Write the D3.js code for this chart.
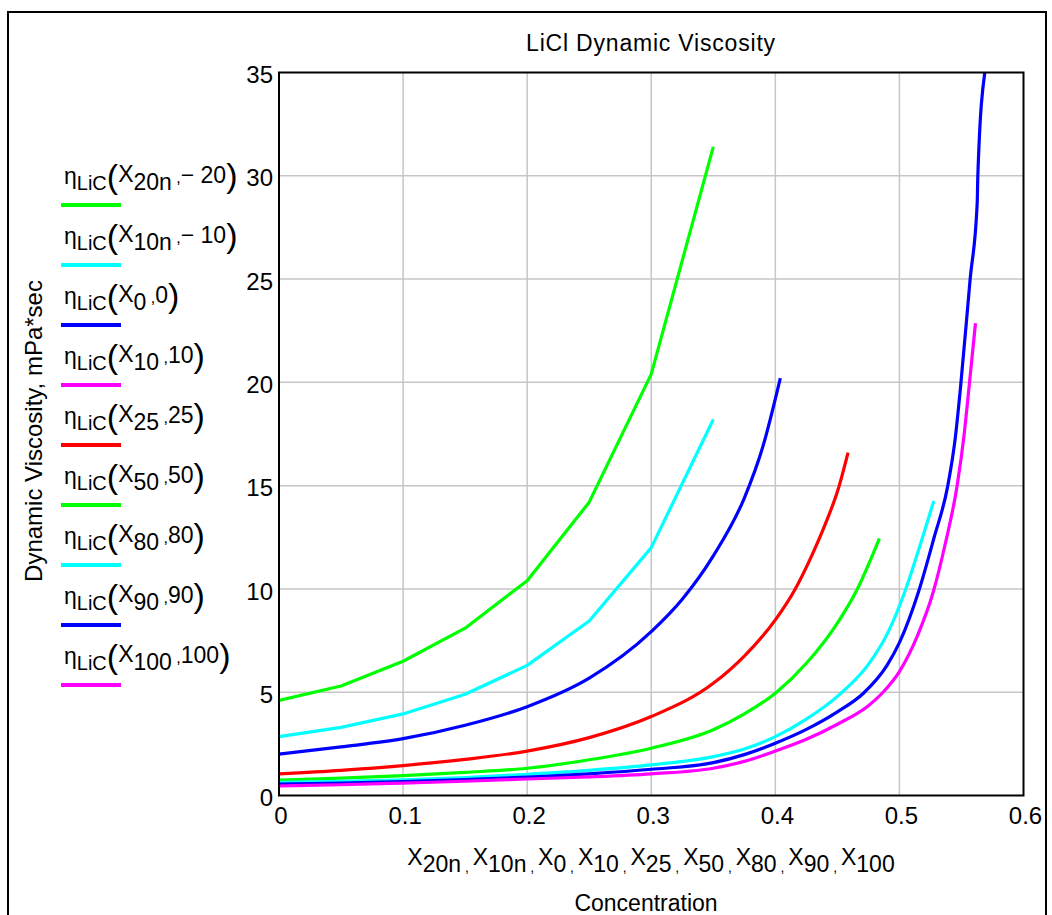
<!DOCTYPE html>
<html><head><meta charset="utf-8">
<script src="https://cdn.jsdelivr.net/npm/d3@7"></script>
<style>
body{margin:0;background:#fff}
text{font-family:"Liberation Sans",Arial,sans-serif;fill:#000}
</style>
</head><body>
<svg id="c" width="1052" height="915"></svg>
<script>
// ---- data ----
const xTicks=[0,0.1,0.2,0.3,0.4,0.5,0.6];
const xTickLabels=["0","0.1","0.2","0.3","0.4","0.5","0.6"];
const yTicks=[0,5,10,15,20,25,30,35];
const yTickLabels=["0","5","10","15","20","25","30","35"];

const legendSubs=["20n","10n","0","10","25","50","80","90","100"];
const legendTemps=["\u2212 20","\u2212 10","0","10","25","50","80","90","100"];
const seriesColors=["#00ff00","#00ffff","#0000ff","#ff00ff","#ff0000","#00ff00","#00ffff","#0000ff","#ff00ff"];

// -20 C
const xM20=[0,0.05,0.1,0.15,0.2,0.25,0.3,0.35];
const vM20=[4.6,5.3,6.5,8.1,10.4,14.2,20.4,31.4];
// -10 C
const xM10=[0,0.05,0.1,0.15,0.2,0.25,0.3,0.35];
const vM10=[2.85,3.3,3.95,4.9,6.3,8.45,12.0,18.2];
// 0 C
const xT0=[0,0.05,0.1,0.15,0.2,0.25,0.3,0.325,0.35,0.375,0.39,0.404];
const vT0=[2.0,2.35,2.75,3.4,4.3,5.68,7.93,9.5,11.6,14.4,16.9,20.2];
// 10 C (not visible in reference)
const xT10=[];
const vT10=[];
// 25 C
const xT25=[0,0.05,0.1,0.15,0.2,0.25,0.3,0.35,0.375,0.4,0.4156,0.43,0.44,0.451,0.4586];
const vT25=[1.05,1.22,1.45,1.75,2.15,2.8,3.82,5.43,6.75,8.5,9.95,11.7,13.1,14.9,16.6];
// 50 C
const xT50=[0,0.05,0.1,0.15,0.2,0.25,0.3,0.35,0.375,0.401,0.425,0.45,0.4653,0.4839];
const vT50=[0.75,0.84,0.96,1.12,1.32,1.73,2.29,3.18,3.95,5.0,6.4,8.35,9.9,12.45];
// 80 C
const xT80=[0,0.05,0.1,0.15,0.2,0.25,0.3,0.35,0.375,0.4,0.425,0.45,0.475,0.49,0.504,0.515,0.5277];
const vT80=[0.64,0.69,0.76,0.87,1.03,1.22,1.48,1.88,2.25,2.85,3.7,4.8,6.35,7.8,9.8,11.8,14.26];
// 90 C
const xT90=[0,0.05,0.1,0.15,0.2,0.25,0.3,0.35,0.375,0.4,0.425,0.45,0.471,0.49,0.5,0.5156,0.528,0.539,0.545,0.549,0.557,0.5627,0.5632,0.5688];
const vT90=[0.55,0.6,0.67,0.77,0.89,1.05,1.27,1.59,1.98,2.53,3.2,4.05,4.95,6.3,7.4,9.9,12.5,15.0,17.3,19.6,25.0,28.7,30.0,35.0];
// 100 C
const xT100=[0,0.05,0.1,0.15,0.2,0.25,0.3,0.35,0.375,0.4,0.425,0.45,0.475,0.4868,0.5,0.515,0.527,0.537,0.5465,0.552,0.5565,0.5613];
const vT100=[0.46,0.52,0.6,0.69,0.8,0.9,1.05,1.32,1.65,2.15,2.72,3.45,4.35,5.0,6.0,7.8,9.8,12.2,15.0,17.4,20.0,22.86];

const seriesX=[xM20,xM10,xT0,xT10,xT25,xT50,xT80,xT90,xT100];
const seriesV=[vM20,vM10,vT0,vT10,vT25,vT50,vT80,vT90,vT100];
const seriesPolyline=[true,true,false,false,false,false,false,false,false];

// ---- layout ----
const svg=d3.select("#c");
const L=279,R=1023.5,T=72.5,B=795.5;
const x=d3.scaleLinear().domain([0,0.6]).range([L,R]);
const y=d3.scaleLinear().domain([0,35]).range([B,T]);

// outer frame
svg.append("rect").attr("x",8).attr("y",12).attr("width",1038).attr("height",920)
  .attr("fill","none").attr("stroke","#000").attr("stroke-width",2);

// grid
const grid=svg.append("g");
grid.selectAll("line.gx").data(xTicks.slice(1,-1)).enter().append("line")
  .attr("x1",d=>x(d)).attr("x2",d=>x(d)).attr("y1",T).attr("y2",B)
  .attr("stroke","#c6c6c6").attr("stroke-width",1.5);
grid.selectAll("line.gy").data(yTicks.slice(1,-1)).enter().append("line")
  .attr("y1",d=>y(d)).attr("y2",d=>y(d)).attr("x1",L).attr("x2",R)
  .attr("stroke","#c6c6c6").attr("stroke-width",1.5);

// axes labels
const yAxis=d3.axisLeft(y).tickValues(yTicks).tickSize(0).tickPadding(6)
  .tickFormat((d,i)=>yTickLabels[i]);
const gy=svg.append("g").attr("transform",`translate(${L},0)`).call(yAxis);
gy.select(".domain").remove();
gy.selectAll("text").attr("dy","0.42em").style("font-size","24px").style("font-family","'Liberation Sans',Arial,sans-serif").attr("fill","#000");

const xAxis=d3.axisBottom(x).tickValues(xTicks).tickSize(0).tickPadding(11)
  .tickFormat((d,i)=>xTickLabels[i]);
const gx=svg.append("g").attr("transform",`translate(1.5,${B})`).call(xAxis);
gx.select(".domain").remove();
gx.selectAll("text").style("font-size","24px").style("font-family","'Liberation Sans',Arial,sans-serif").attr("fill","#000");

// clip
svg.append("clipPath").attr("id","pc").append("rect").attr("x",L).attr("y",T-2).attr("width",R-L).attr("height",B-T+2);

// curves
const lines=svg.append("g").attr("clip-path","url(#pc)");
seriesX.forEach((xs,i)=>{
  if(!xs.length) return;
  const pts=xs.map((d,j)=>[d,seriesV[i][j]]);
  const gen=d3.line().x(d=>x(d[0])).y(d=>y(d[1]))
    .curve(seriesPolyline[i]?d3.curveLinear:d3.curveMonotoneX);
  lines.append("path").attr("d",gen(pts)).attr("fill","none")
    .attr("stroke",seriesColors[i]).attr("stroke-width",3.2).attr("stroke-linejoin","round");
});

// plot frame
svg.append("rect").attr("x",L).attr("y",T).attr("width",R-L).attr("height",B-T)
  .attr("fill","none").attr("stroke","#000").attr("stroke-width",2);

// title
svg.append("text").attr("x",651).attr("y",51).attr("text-anchor","middle")
  .style("font-size","23px").style("letter-spacing","0.8px").text("LiCl Dynamic Viscosity");

// y title
svg.append("text").attr("transform","translate(42,431) rotate(-90)").attr("text-anchor","middle")
  .style("font-size","24px").text("Dynamic Viscosity, mPa*sec");

// legend
const leg=svg.append("g");
legendSubs.forEach((s,i)=>{
  const ly=205+60*i;
  leg.append("line").attr("x1",61).attr("x2",121).attr("y1",ly).attr("y2",ly)
    .attr("stroke",seriesColors[i]).attr("stroke-width",4);
  const t=leg.append("text").attr("x",64).attr("y",ly-21);
  t.append("tspan").text("\u03b7").style("font-size","23px");
  t.append("tspan").text("LiC").attr("dy",6).style("font-size","20px");
  t.append("tspan").text("(").attr("dy",-2).style("font-size","34px");
  t.append("tspan").text("X").attr("dy",-6).style("font-size","23px");
  t.append("tspan").text(s).attr("dy",8).style("font-size","23px");
  t.append("tspan").text(" ,").attr("dy",-7).style("font-size","16px");
  t.append("tspan").text(legendTemps[i]).style("font-size","23px");
  t.append("tspan").text(")").attr("dy",4).style("font-size","34px");
});

// x label row
const xl=svg.append("text").attr("x",651).attr("y",865).attr("text-anchor","middle");
legendSubs.forEach((s,i)=>{
  xl.append("tspan").text("X").attr("dy",i===0?0:-7).style("font-size","23px");
  xl.append("tspan").text(s).attr("dy",7).style("font-size","23px");
  if(i<legendSubs.length-1) xl.append("tspan").text(" , ").style("font-size","14px");
});

svg.append("text").attr("x",646).attr("y",911).attr("text-anchor","middle")
  .style("font-size","23px").text("Concentration");
</script>
</body></html>
